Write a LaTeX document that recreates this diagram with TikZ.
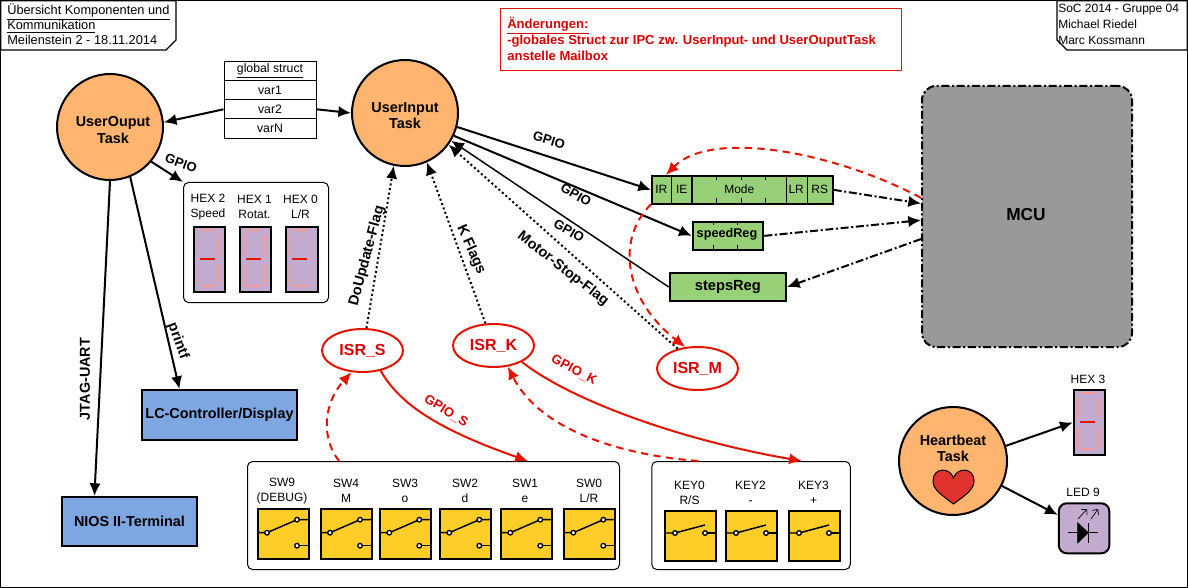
\documentclass[tikz,border=0pt]{standalone}
\usepackage{fontspec}
\setmainfont{Liberation Sans}
\usetikzlibrary{arrows.meta,shapes.geometric}
\newdimen\px
\px=0.75pt
\definecolor{orangeT}{HTML}{FFB570}
\definecolor{greenR}{HTML}{97D077}
\definecolor{blueB}{HTML}{7EA6E0}
\definecolor{yellowS}{HTML}{FFCD28}
\definecolor{lilaH}{HTML}{C3ABD0}
\definecolor{segOff}{HTML}{F19C99}
\definecolor{redI}{HTML}{E51400}
\definecolor{redT}{HTML}{DD0000}
\definecolor{grayM}{HTML}{999999}
\definecolor{heartC}{HTML}{E1332D}
\tikzset{
    txt/.style={font=\fontsize{9}{11.25}\selectfont,inner sep=0pt,align=center},
    lbl/.style={font=\bfseries\fontsize{9.8}{11}\selectfont,inner sep=0pt},
    biglbl/.style={font=\bfseries\fontsize{10.8}{12}\selectfont,inner sep=0pt},
    redlbl/.style={lbl,text=redT},
    task/.style={circle,draw,line width=1.5pt,fill=orangeT,minimum size=106\px,inner sep=0pt},
    tasktext/.style={font=\bfseries\fontsize{10.8}{12.2}\selectfont,align=center,inner sep=0pt},
    isr/.style={ellipse,draw=redI,line width=1.5pt,minimum width=81\px,minimum height=43\px,inner sep=0pt,text=redT,font=\bfseries\fontsize{12}{14}\selectfont},
    panel/.style={draw,line width=0.75pt,rounded corners=5\px},
    reg/.style={draw,line width=1.5pt,fill=greenR,inner sep=0pt},
    term/.style={draw,line width=1.5pt,fill=blueB,inner sep=0pt,font=\bfseries\fontsize{10.8}{12}\selectfont},
    cell/.style={draw,line width=0.75pt,minimum width=92\px,minimum height=19.3\px,inner sep=0pt,font=\fontsize{9.2}{11}\selectfont},
    sevenbox/.style={draw,line width=1.5pt,fill=lilaH,minimum width=31.5\px,minimum height=65\px,inner sep=0pt},
    swrect/.style={draw,line width=1.5pt,fill=yellowS,minimum width=51\px,minimum height=50\px,inner sep=0pt},
    conn/.style={line width=1.5pt,-{Latex[length=9.5pt,width=8.5pt]}},
    thinconn/.style={conn,line width=1.1pt},
    dotconn/.style={conn,dotted},
    dashdot/.style={conn,dash pattern=on 6pt off 2pt on 1.5pt off 2pt},
    redconn/.style={conn,draw=redI,-{Latex[length=9.5pt,width=8.5pt,color=redI]}},
    reddash/.style={redconn,dash pattern=on 5.5pt off 4pt},
    contact/.style={draw,line width=1pt,fill=white},
}
\newcommand{\sevenseg}[4]{%
    \node[sevenbox,anchor=north west](#3)at(#1,#2){};
    \begin{scope}[shift={(#1,#2)}]
        \draw[segOff,line width=1.3pt](7,4.3)--(22.3,4.3);
        \draw[segOff,line width=1.3pt](7,60.3)--(22.3,60.3);
        \foreach \sx in {5,26.5}{
            \draw[segOff,line width=1.3pt](\sx,7.7)--(\sx,29.3);
            \draw[segOff,line width=1.3pt](\sx,37.7)--(\sx,59.3);
        }
        \draw[redI,line width=1.5pt](7,33.3)--(22.3,33.3);
    \end{scope}
}
\newcommand{\switchtwo}[3]{%
    \node[swrect,anchor=north west](#3)at(#1,#2){};
    \begin{scope}[shift={(#1,#2)}]
        \draw[line width=1.1pt](0,25)--(10,25)--(40,12)--(51,12);
        \draw[line width=1.1pt](40,38)--(51,38);
        \draw[contact](10,25)circle(2.3\px);
        \draw[contact](40,12)circle(2.3\px);
        \draw[contact](40,38)circle(2.3\px);
    \end{scope}
}
\newcommand{\switchone}[3]{%
    \node[swrect,anchor=north west](#3)at(#1,#2){};
    \begin{scope}[shift={(#1,#2)}]
        \draw[line width=1.1pt](0,23)--(10.7,23)--(40.7,15);
        \draw[line width=1.1pt](40.7,23)--(51,23);
        \draw[contact](10.7,23)circle(2.3\px);
        \draw[contact](40.7,23)circle(2.3\px);
    \end{scope}
}
\begin{document}
\begin{tikzpicture}[x=0.75pt,y=-0.75pt]
    \useasboundingbox(0,0)rectangle(1188,588);
    \draw[line width=1pt](0.7,0.7)rectangle(1187.3,587.3);

    \draw[line width=1pt,fill=white](0.7,0.7)--(176,0.7)--(176,40)--(166,50)--(0.7,50)--cycle;
    \node[txt,align=left,anchor=north west,font=\fontsize{9.6}{11.25}\selectfont](titlenote)at(7,4){\underline{Übersicht Komponenten und}\\\underline{Kommunikation}\\Meilenstein 2 - 18.11.2014};
    \draw[line width=1pt,fill=white](1057,0.7)--(1187.3,0.7)--(1187.3,50)--(1067,50)--(1057,40)--cycle;
    \node[txt,align=left,anchor=north west,font=\fontsize{9}{12}\selectfont](groupnote)at(1058,3.5){SoC 2014 - Gruppe 04\\Michael Riedel\\Marc Kossmann};
    \node[draw=redI,line width=0.75pt,minimum width=401\px,minimum height=62\px,anchor=north west,inner sep=0pt](changebox)at(499.5,8){};
    \node[anchor=north west,align=left,inner sep=0pt,text=redT,font=\bfseries\fontsize{9.8}{12}\selectfont](changetext)at(507,17.5){\underline{Änderungen:}\\-globales Struct zur IPC zw. UserInput- und UserOuputTask\\anstelle Mailbox};

    \node[task](uo)at(110,127){};
    \node[tasktext](uotext)at(113,130){UserOuput\\Task};
    \node[task](ui)at(405,113){};
    \node[tasktext](uitext)at(405,115.5){UserInput\\Task};
    \node[task,minimum size=108\px](hb)at(953,461){};
    \node[tasktext](hbtext)at(953,448.5){Heartbeat\\Task};
    \draw[line width=0.75pt,fill=heartC](953.5,504)..controls(940,494)and(933,489)..(933,481)
        ..controls(933,467)and(950,467)..(953.5,478)..controls(957,467)and(974,467)..(974,481)
        ..controls(974,489)and(967,494)..(953.5,504)--cycle;

    \node[cell](gs)at(270,70.7){\underline{global struct}};
    \node[cell](var1)at(270,90){var1};
    \node[cell](var2)at(270,109.3){var2};
    \node[cell](varn)at(270,128.6){varN};

    \node[panel,minimum width=145\px,minimum height=120\px,anchor=north west,inner sep=0pt](hexpanel)at(183,182){};
    \foreach \hx/\ha/\hb/\hn in {208/HEX 2/Speed/hextwo,254.5/HEX 1/Rotat./hexone,300.5/HEX 0/L\slash R/hexzero}{
        \node[txt](\hn t)at(\hx,207){\ha\\\hb};
    }
    \sevenseg{192.6}{225.8}{hextwo}{}
    \sevenseg{238.7}{225.8}{hexone}{}
    \sevenseg{285}{225.8}{hexzero}{}
    \node[txt](hexthreet)at(1088,379.5){HEX 3};
    \sevenseg{1072.7}{389}{hexthree}{}
    \node[txt](ledt)at(1083,492){LED 9};
    \node[draw,line width=1.5pt,fill=lilaH,rounded corners=8\px,minimum width=50.5\px,minimum height=50\px,anchor=north west,inner sep=0pt](led)at(1057.8,502.3){};
    \draw[line width=1pt](1068,532.7)--(1098,532.7);
    \draw[fill=black](1077.7,522.7)--(1088.3,532.7)--(1077.7,543)--cycle;
    \draw[line width=1pt](1088.3,523)--(1088.3,543);
    \draw[-{Straight Barb[length=3pt]},line width=0.5pt](1078,519)--(1087,509);
    \draw[-{Straight Barb[length=3pt]},line width=0.5pt](1091,519)--(1098,509);

    \node[reg,minimum width=180.7\px,minimum height=27.7\px,anchor=north west](modereg)at(651,175){};
    \foreach \rx in {671.7,692,786.7,807.7}{
        \draw[line width=0.9pt](\rx,175)--(\rx,202.7);
    }
    \foreach \rx in {716.7,741.7,765.7}{
        \draw[line width=0.9pt](\rx,175)--(\rx,180);
        \draw[line width=0.9pt](\rx,197.7)--(\rx,202.7);
    }
    \foreach \rx/\rt/\rn in {661.3/IR/irt,681.8/IE/iet,739.3/Mode/modet,796.2/LR/lrt,819.7/RS/rst}{
        \node[txt](\rn)at(\rx,189){\rt};
    }
    \node[reg,minimum width=70.6\px,minimum height=28.3\px,anchor=north west](speedreg)at(691.7,220.7){};
    \foreach \rx in {713.3,737.7}{
        \draw[line width=0.9pt](\rx,220.7)--(\rx,225);
        \draw[line width=0.9pt](\rx,244.7)--(\rx,249);
    }
    \node[font=\bfseries\fontsize{9.5}{11}\selectfont,inner sep=0pt](speedt)at(727,234.5){speedReg};
    \node[reg,minimum width=116.3\px,minimum height=28\px,anchor=north west,font=\bfseries\fontsize{11}{12}\selectfont](stepsreg)at(668.7,272){stepsReg};

    \node[draw,line width=1.5pt,fill=grayM,rounded corners=14\px,dash pattern=on 6pt off 2pt on 1.5pt off 2pt,minimum width=210\px,minimum height=261\px,inner sep=0pt](mcu)at(1027,216.5){};
    \node[font=\bfseries\fontsize{13}{15}\selectfont,inner sep=0pt](mcut)at(1026,214.5){MCU};

    \node[term,minimum width=155\px,minimum height=50\px](lcd)at(219.5,415){LC-Controller/Display};
    \node[term,minimum width=135\px,minimum height=49\px](nios)at(129.5,521.5){NIOS II-Terminal};

    \node[isr](isrs)at(362.5,350.5){ISR\_S};
    \node[isr](isrk)at(493.5,345.5){ISR\_K};
    \node[isr](isrm)at(697.5,368.5){ISR\_M};

    \node[panel,minimum width=372\px,minimum height=108\px,inner sep=0pt](swpanel)at(433.5,515.5){};
    \foreach \sx/\sa/\sb/\sn/\tx in {257/SW9/{(DEBUG)}/swnine/282,320/SW4/M/swfour/346,379.3/SW3/o/swthree/405,439.3/SW2/d/swtwo/465,500.3/SW1/e/swone/525,563.3/SW0/L\slash R/swzero/589}{
        \node[txt](\sn t)at(\tx,491.3){\sa\\\sb};
        \switchtwo{\sx}{507.7}{\sn}
    }
    \node[panel,minimum width=198.5\px,minimum height=108\px,inner sep=0pt](keypanel)at(751,515.5){};
    \foreach \kx/\ka/\kb/\kn/\tx in {664.3/KEY0/R\slash S/keyzero/689.5,725.3/KEY2/-/keytwo/750.5,788.3/KEY3/+/keythree/813.5}{
        \node[txt](\kn t)at(\tx,492.5){\ka\\\kb};
        \switchone{\kx}{510}{\kn}
    }

    \draw[conn](var2.west)--(uo.5);
    \draw[conn](var2.east)--(ui.180);
    \draw[conn](uo.-40)--(hexpanel.north west);
    \draw[conn](uo.-68)--(lcd.147);
    \draw[conn](uo.south)--(nios.144);
    \draw[conn](ui.-15)--(modereg.west);
    \draw[conn](ui.-25)--(speedreg.west);
    \draw[conn,thinconn](stepsreg.west)--(ui.-31);
    \draw[dotconn](isrm.135)--(ui.-36);
    \draw[dotconn](isrs.80)--(ui.258);
    \draw[dotconn](isrk.110)--(ui.-66);
    \draw[dashdot](modereg.east)--(mcu.173);
    \draw[dashdot](speedreg.east)--(mcu.182);
    \draw[dashdot](mcu.192)--(stepsreg.east);
    \draw[reddash](mcu.170)..controls(830,150)and(710,130)..(modereg.169);
    \draw[reddash](modereg.189)..controls(615,240)and(625,300)..(isrm.120);
    \draw[redconn](isrs.-48)..controls(400,405)and(440,430)..(swpanel.30);
    \draw[redconn](isrk.-30)..controls(570,400)and(680,440)..(keypanel.47);
    \draw[reddash](swpanel.150)..controls(322,440)and(322,405)..(isrs.243);
    \draw[reddash](keypanel.134)..controls(620,455)and(540,430)..(isrk.-56);
    \draw[conn](hb.16)--(hexthree.west);
    \draw[conn](hb.-27)--(led.153);

    \node[lbl,rotate=-20](gpiohex)at(181,163){GPIO};
    \node[biglbl,rotate=90](jtag)at(85,379){JTAG-UART};
    \node[biglbl,rotate=-70](printfl)at(178,341){printf};
    \node[lbl,rotate=-17](gpioa)at(549,140){GPIO};
    \node[lbl,rotate=-30](gpiob)at(576,195){GPIO};
    \node[lbl,rotate=-30](gpioc)at(569,231){GPIO};
    \node[biglbl,rotate=-38](motorl)at(563,269){Motor-Stop-Flag};
    \node[biglbl,rotate=-66](kflag)at(471,250){K Flags};
    \node[biglbl,rotate=75](doupd)at(367,256){DoUpdate-Flag};
    \node[redlbl,rotate=-32](gpios)at(446,411){GPIO\_S};
    \node[redlbl,rotate=-28](gpiok)at(574,370){GPIO\_K};
\end{tikzpicture}
\end{document}
